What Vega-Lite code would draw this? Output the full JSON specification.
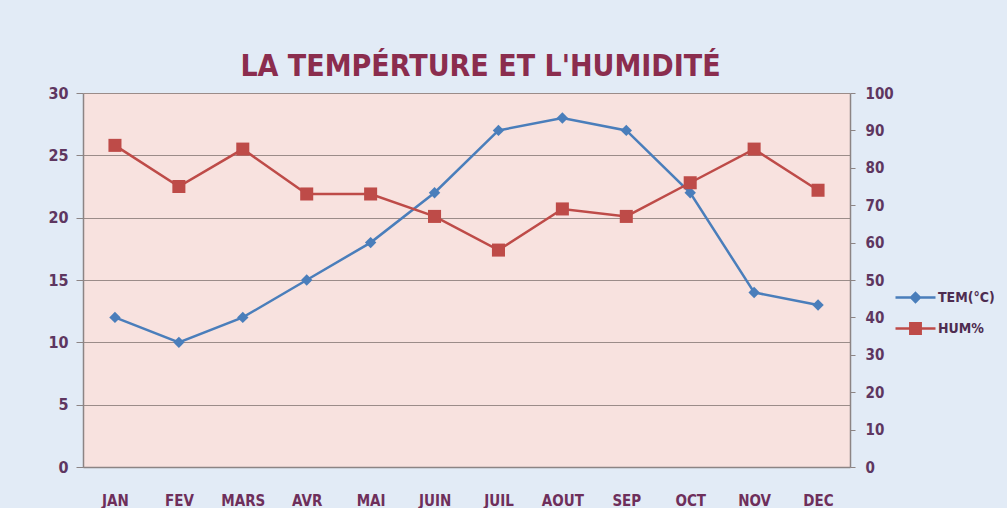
{
  "$schema": "https://vega.github.io/schema/vega-lite/v6.json",
  "width": 767,
  "height": 374,
  "autosize": {"type": "none"},
  "padding": {"left": 83, "top": 93, "right": 157, "bottom": 41},
  "background": "#e2ebf6",
  "config": {
    "view": {"fill": "#f8e2df", "stroke": null},
    "font": "Liberation Sans Narrow, DejaVu Sans Condensed, sans-serif",
    "legend": {
      "title": null,
      "orient": "none",
      "legendX": 811,
      "legendY": 183,
      "padding": 0,
      "symbolSize": 1600,
      "rowPadding": -18,
      "labelOffset": 1,
      "labelFont": "Liberation Sans Narrow, DejaVu Sans Condensed, sans-serif",
      "labelFontSize": 14,
      "labelFontWeight": "bold",
      "labelColor": "#4e2c50"
    }
  },
  "title": {
    "text": "LA TEMPÉRTURE ET L'HUMIDITÉ",
    "fontSize": 30,
    "fontWeight": "bold",
    "font": "Liberation Sans Narrow, DejaVu Sans Condensed, sans-serif",
    "color": "#8b2d4e",
    "anchor": "middle",
    "offset": 3,
    "dx": 14
  },
  "data": {
    "values": [
      {"mois": "JAN", "TEM": 12, "HUM": 86},
      {"mois": "FEV", "TEM": 10, "HUM": 75},
      {"mois": "MARS", "TEM": 12, "HUM": 85},
      {"mois": "AVR", "TEM": 15, "HUM": 73},
      {"mois": "MAI", "TEM": 18, "HUM": 73},
      {"mois": "JUIN", "TEM": 22, "HUM": 67},
      {"mois": "JUIL", "TEM": 27, "HUM": 58},
      {"mois": "AOUT", "TEM": 28, "HUM": 69},
      {"mois": "SEP", "TEM": 27, "HUM": 67},
      {"mois": "OCT", "TEM": 22, "HUM": 76},
      {"mois": "NOV", "TEM": 14, "HUM": 85},
      {"mois": "DEC", "TEM": 13, "HUM": 74}
    ]
  },
  "encoding": {
    "x": {
      "field": "mois",
      "type": "ordinal",
      "sort": null,
      "scale": {"paddingInner": 0, "paddingOuter": 0},
      "axis": {
        "title": null,
        "labelAngle": 0,
        "labelFont": "Liberation Sans Narrow, DejaVu Sans Condensed, sans-serif",
        "labelFontSize": 15,
        "labelFontWeight": "bold",
        "labelColor": "#6e2f5b",
        "labelPadding": 26,
        "domainColor": "#8c8484",
        "domainWidth": 1.5,
        "ticks": false
      }
    }
  },
  "layer": [
    {
      "encoding": {
        "y": {
          "field": "TEM",
          "type": "quantitative",
          "scale": {"domain": [0, 30], "nice": false},
          "axis": {
            "title": null,
            "values": [0, 5, 10, 15, 20, 25, 30],
            "grid": true,
            "gridColor": "#9b8c89",
            "gridWidth": 1.2,
            "gridOpacity": 1,
            "domainColor": "#8c8484",
            "domainWidth": 1.5,
            "tickColor": "#8c8484",
            "tickSize": 7,
            "labelFont": "Liberation Sans Narrow, DejaVu Sans Condensed, sans-serif",
            "labelFontSize": 16,
            "labelFontWeight": "bold",
            "labelColor": "#5e3660",
            "labelPadding": 8
          }
        }
      },
      "layer": [
        {
          "mark": {"type": "line", "color": "#4a7ebb", "strokeWidth": 2.5}
        },
        {
          "mark": {"type": "point", "shape": "diamond", "filled": true, "size": 130, "opacity": 1},
          "encoding": {
            "color": {
              "datum": "TEM(°C)",
              "scale": {"domain": ["TEM(°C)", "HUM%"], "range": ["#4a7ebb", "#be4b48"]},
              "legend": {
                "encoding": {
                  "symbols": {
                    "shape": {"value": {"expr": "datum.value === 'HUM%' ? 'M-1,0H1M-0.26,-0.26H0.26V0.26H-0.26Z' : 'M-1,0H1M0,-0.22L0.22,0L0,0.22L-0.22,0Z'"}},
                    "stroke": {"value": {"expr": "datum.value === 'HUM%' ? '#be4b48' : '#4a7ebb'"}},
                    "strokeWidth": {"value": 2.5}
                  }
                }
              }
            }
          }
        }
      ]
    },
    {
      "encoding": {
        "y": {
          "field": "HUM",
          "type": "quantitative",
          "scale": {"domain": [0, 100], "nice": false},
          "axis": {
            "orient": "right",
            "title": null,
            "values": [0, 10, 20, 30, 40, 50, 60, 70, 80, 90, 100],
            "labelOverlap": false,
            "grid": false,
            "domainColor": "#8c8484",
            "domainWidth": 1.5,
            "tickColor": "#8c8484",
            "tickSize": 5,
            "labelFont": "Liberation Sans Narrow, DejaVu Sans Condensed, sans-serif",
            "labelFontSize": 15,
            "labelFontWeight": "bold",
            "labelColor": "#5e3660",
            "labelPadding": 10
          }
        }
      },
      "layer": [
        {
          "mark": {"type": "line", "color": "#be4b48", "strokeWidth": 2.5}
        },
        {
          "mark": {"type": "point", "shape": "square", "filled": true, "size": 170, "opacity": 1},
          "encoding": {
            "color": {
              "datum": "HUM%",
              "legend": {
                "encoding": {
                  "symbols": {
                    "shape": {"value": {"expr": "datum.value === 'HUM%' ? 'M-1,0H1M-0.26,-0.26H0.26V0.26H-0.26Z' : 'M-1,0H1M0,-0.22L0.22,0L0,0.22L-0.22,0Z'"}},
                    "stroke": {"value": {"expr": "datum.value === 'HUM%' ? '#be4b48' : '#4a7ebb'"}},
                    "strokeWidth": {"value": 2.5}
                  }
                }
              }
            }
          }
        }
      ]
    }
  ],
  "resolve": {"scale": {"y": "independent"}}
}
